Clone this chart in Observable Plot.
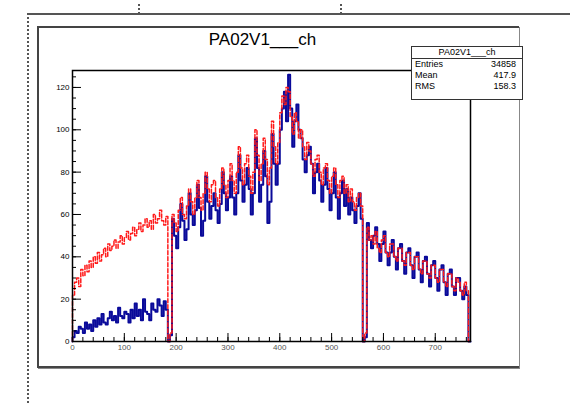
<!DOCTYPE html>
<html><head><meta charset="utf-8">
<script src="https://cdn.jsdelivr.net/npm/d3@7"></script>
<script src="https://cdn.jsdelivr.net/npm/@observablehq/plot@0.6"></script>
<style>
body{margin:0;width:570px;height:403px;background:#fff;font-family:"Liberation Sans",Arial,sans-serif;position:relative;overflow:hidden}
.abs{position:absolute}
</style></head><body>
<div class="abs" style="left:27px;top:13px;width:543px;height:0;border-top:2px solid #555"></div>
<div class="abs" style="left:27px;top:13px;width:0;height:390px;border-left:2px dotted #555"></div>
<div class="abs" style="left:138px;top:4px;height:10px;border-left:2px dotted #555"></div>
<div class="abs" style="left:340px;top:4px;height:10px;border-left:2px dotted #555"></div>
<div class="abs" style="left:37px;top:26px;width:480px;height:338px;border-left:2px solid #444;border-top:2px solid #444;border-bottom:2px solid #444;box-shadow:1px 1px 0 #888"></div>
<div id="chart" class="abs" style="left:0;top:0"></div>
<div class="abs" style="left:0;width:525px;top:30px;text-align:center;font-size:17px">PA02V1___ch</div>
<div class="abs" style="left:411px;top:46px;width:110px;height:52px;border:1px solid #333;background:#fff;font-size:9px;line-height:11px">
<div style="text-align:center;border-bottom:1px solid #333">PA02V1___ch</div>
<div style="padding:0 6px 0 3px;display:flex;justify-content:space-between"><span>Entries</span><span>34858</span></div>
<div style="padding:0 6px 0 3px;display:flex;justify-content:space-between"><span>Mean</span><span>417.9</span></div>
<div style="padding:0 6px 0 3px;display:flex;justify-content:space-between"><span>RMS</span><span>158.3</span></div>
</div>
<script>
const binWidth = 4;
const blue = [2,5,4,7,6,4,9,6,8,5,10,7,11,8,13,9,8,11,14,10,12,9,16,12,11,14,13,9,15,11,18,12,15,10,20,14,13,10,18,15,14,20,17,12,19,15,
 0,3,
 58,50,44,54,65,57,48,53,70,60,55,62,74,63,50,57,78,66,58,64,70,62,56,65,80,70,62,68,
 78,68,60,70,88,76,66,74,82,72,60,70,96,82,66,74,90,78,56,66,98,84,74,84,
 100,110,118,104,126,110,92,104,112,100,
 96,86,80,88,92,84,70,80,84,76,66,74,82,72,62,70,80,68,58,70,76,64,72,60,68,62,56,64,70,58,
 0,2,
 56,48,44,50,54,46,38,46,52,42,36,42,48,40,34,44,46,38,32,42,44,36,30,40,42,34,28,38,40,32,26,36,38,30,24,34,36,28,22,32,34,26,22,30,30,24,20,26,22,0];
const red = [22,28,30,26,34,31,36,33,38,35,40,37,42,38,41,44,40,46,43,45,48,44,47,50,46,49,52,48,51,54,50,53,56,52,55,58,54,57,53,60,56,58,62,57,55,59,
 0,4,
 60,56,52,62,68,60,58,64,72,66,60,68,76,68,62,70,80,72,66,74,76,68,64,72,82,74,68,76,
 84,76,70,80,92,82,74,84,88,78,70,80,100,88,76,84,96,86,74,82,104,92,84,94,
 108,116,112,120,118,106,98,108,104,96,
 100,92,86,94,90,84,78,86,88,80,74,82,84,76,70,78,82,74,68,76,78,70,74,66,72,66,62,68,70,64,
 0,4,
 54,48,50,46,52,44,42,48,50,42,40,46,46,40,38,44,44,38,36,42,42,36,34,40,40,34,32,38,38,32,30,36,36,30,28,34,34,28,26,32,32,26,24,30,28,24,22,28,24,0];
const xTicks = [0,100,200,300,400,500,600,700];
const yTicks = [0,20,40,60,80,100,120];
const steps = arr => { const r=[{x:0,y:0}]; arr.forEach((v,i)=>{r.push({x:i*binWidth,y:v});}); r.push({x:arr.length*binWidth,y:arr[arr.length-1]}); r.push({x:arr.length*binWidth,y:0}); return r; };
const blank = () => "";
const p = Plot.plot({
  width:570, height:403,
  marginLeft:72, marginRight:100, marginTop:70, marginBottom:62,
  x:{domain:[0,768]}, y:{domain:[0,128]},
  style:{fontFamily:"Liberation Sans, Arial",fontSize:"8px",color:"#000"},
  marks:[
    Plot.line(steps(blue),{x:"x",y:"y",curve:"step-after",stroke:"#0a0a9a",strokeWidth:2}),
    Plot.line(steps(red),{x:"x",y:"y",curve:"step-after",stroke:"#ff1a1a",strokeWidth:1.5,strokeDasharray:"4,2"}),
    Plot.frame({stroke:"#000",strokeWidth:1.5}),
    Plot.axisX({ticks:d3.range(0,768,20),tickSize:-4,tickFormat:blank,label:null}),
    Plot.axisX({ticks:xTicks,tickSize:-8,tickPadding:11,label:null,fill:"#555"}),
    Plot.axisY({ticks:d3.range(0,128,5),tickSize:-4,tickFormat:blank,label:null}),
    Plot.axisY({ticks:yTicks,tickSize:-9,tickPadding:12,label:null})
  ]
});
document.getElementById("chart").appendChild(p);
</script></body></html>
